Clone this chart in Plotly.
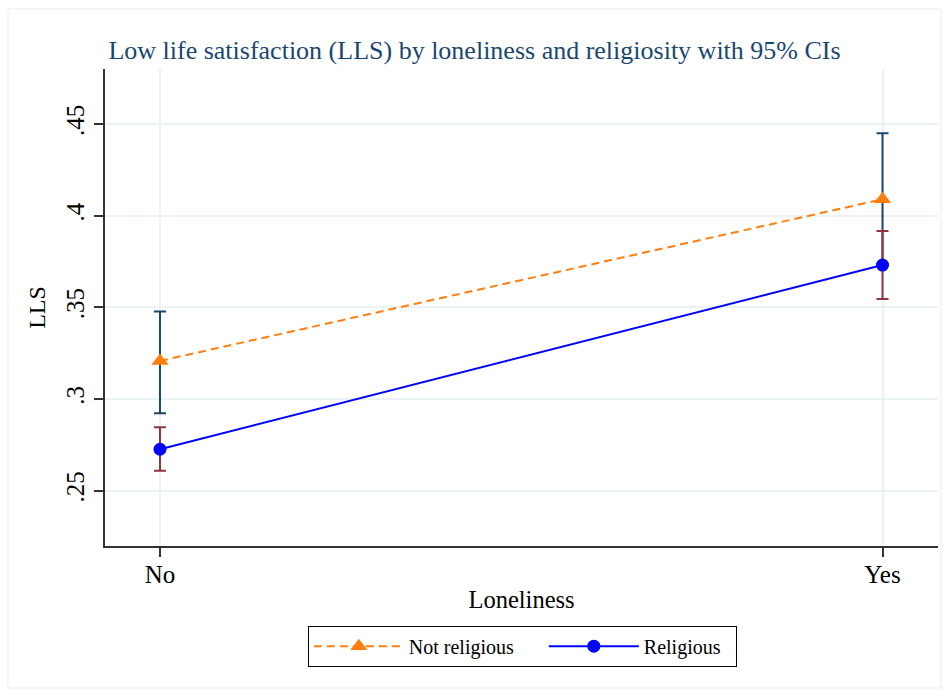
import plotly.graph_objects as go

# Loneliness categories on the x axis
categories = ["No", "Yes"]
x_pos = [0, 1]

# Predicted share with low life satisfaction and 95% confidence bounds
not_religious = [0.3208, 0.4090]
not_religious_lo = [0.2922, 0.3730]
not_religious_hi = [0.3477, 0.4450]

religious = [0.2726, 0.3731]
religious_lo = [0.2609, 0.3546]
religious_hi = [0.2846, 0.3917]

y_ticks = [0.25, 0.30, 0.35, 0.40, 0.45]
y_tick_labels = [".25", ".3", ".35", ".4", ".45"]

FONT = "Liberation Serif"
NBSP = "\u00a0"


def err(vals, lo, hi, color):
    return dict(
        type="data",
        symmetric=False,
        array=[h - v for v, h in zip(vals, hi)],
        arrayminus=[v - l for v, l in zip(vals, lo)],
        color=color,
        thickness=2,
        width=6,
    )


fig = go.Figure()

fig.add_trace(go.Scatter(
    x=x_pos, y=not_religious, name="Not religious" + NBSP * 5,
    mode="lines+markers",
    line=dict(color="#ff7f0e", width=2, dash="8px,5px"),
    marker=dict(symbol="triangle-up", size=15, color="#ff7f0e"),
    error_y=err(not_religious, not_religious_lo, not_religious_hi, "#1a476f"),
))

fig.add_trace(go.Scatter(
    x=x_pos, y=religious, name="Religious" + NBSP * 2,
    mode="lines+markers",
    line=dict(color="#0000ff", width=2),
    marker=dict(symbol="circle", size=13, color="#0000ff"),
    error_y=err(religious, religious_lo, religious_hi, "#90353b"),
))

fig.update_layout(
    width=949, height=696,
    margin=dict(l=105, r=11, t=69, b=150),
    paper_bgcolor="white", plot_bgcolor="white",
    font=dict(family=FONT, color="black", size=24),
    title=dict(
        text="Low life satisfaction (LLS) by loneliness and religiosity with 95% CIs",
        x=0.5, xref="container", xanchor="center",
        y=1 - 50 / 696, yref="container", yanchor="middle",
        font=dict(family=FONT, size=26, color="#1a476f"),
    ),
    showlegend=True,
    legend=dict(
        orientation="h",
        x=0.501, xanchor="center", xref="paper",
        y=-0.21, yanchor="middle", yref="paper",
        bordercolor="black", borderwidth=1,
        font=dict(family=FONT, size=20, color="black"),
        itemwidth=90,
        tracegroupgap=0,
    ),
)

fig.update_xaxes(
    range=[-0.0761, 1.0768],
    tickvals=x_pos, ticktext=categories,
    ticks="outside", ticklen=9, tickcolor="#333333", tickwidth=1.5,
    tickfont=dict(family=FONT, size=25),
    ticklabelstandoff=-4,
    showline=True, linecolor="#333333", linewidth=2,
    showgrid=True, gridcolor="#eaf2f3", gridwidth=2,
    zeroline=False,
    title=dict(text="Loneliness", font=dict(family=FONT, size=24.5), standoff=4),
)

fig.update_yaxes(
    range=[0.2198, 0.4801],
    tickvals=y_ticks, ticktext=y_tick_labels,
    tickangle=-90,
    ticks="outside", ticklen=9, tickcolor="#333333", tickwidth=1.5,
    tickfont=dict(family=FONT, size=25),
    showline=True, linecolor="#333333", linewidth=2,
    showgrid=True, gridcolor="#eaf2f3", gridwidth=2,
    zeroline=False,
    title=dict(text="LLS", font=dict(family=FONT, size=24), standoff=10),
)

# faint outer frame of the graph region
fig.add_shape(
    type="rect", xref="paper", yref="paper",
    x0=(8 - 105) / 833, x1=(941 - 105) / 833,
    y0=(546 - 688) / 477, y1=(546 - 9) / 477,
    line=dict(color="#ececec", width=1), layer="below",
)

fig.write_html("out.html")
